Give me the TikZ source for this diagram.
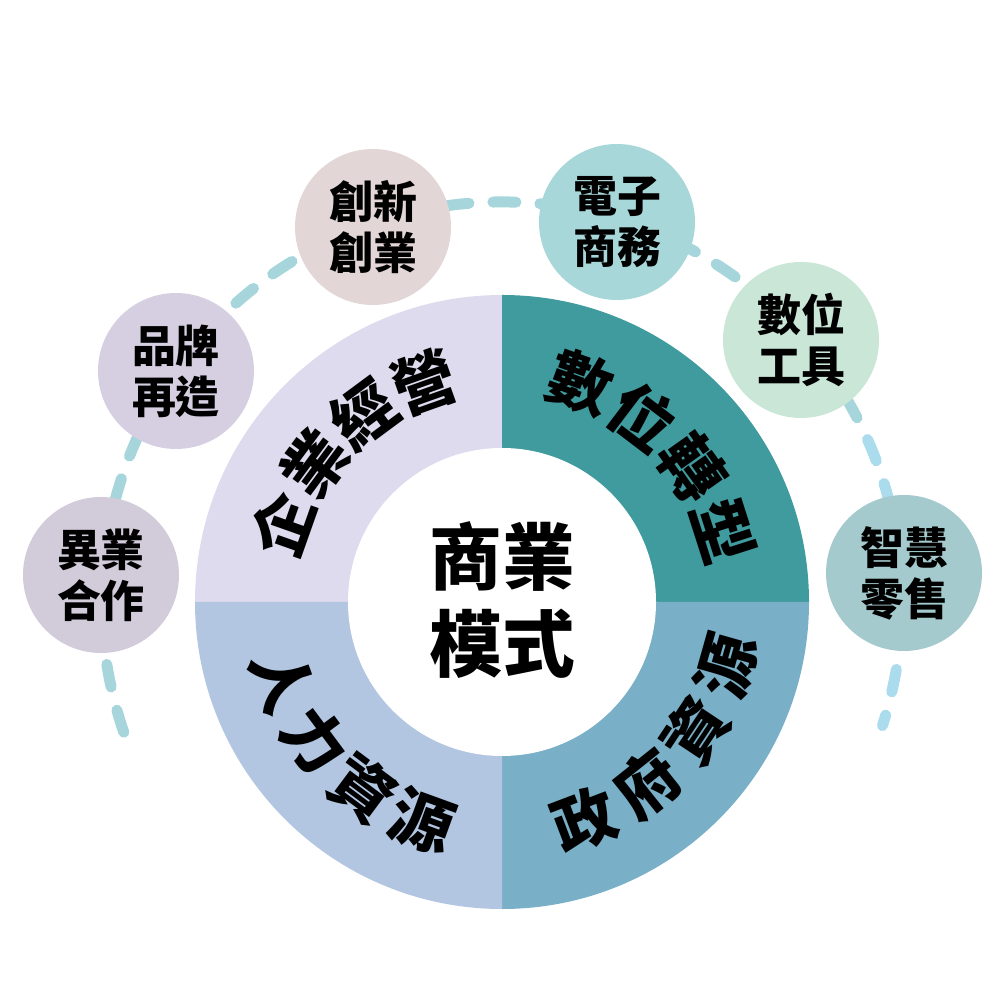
\documentclass[tikz,border=0pt]{standalone}
\usepackage{fontspec}
\setmainfont{Noto Sans CJK TC}
\usetikzlibrary{positioning}
\definecolor{ringlav}{RGB}{222, 219, 238}
\definecolor{ringteal}{RGB}{64, 155, 158}
\definecolor{ringsky}{RGB}{178, 198, 226}
\definecolor{ringblue}{RGB}{122, 175, 200}
\definecolor{dashteal}{RGB}{166, 214, 219}
\definecolor{dashsky}{RGB}{170, 220, 238}
\definecolor{bubgrey}{RGB}{210, 203, 217}
\definecolor{bublilac}{RGB}{214, 207, 226}
\definecolor{bubrose}{RGB}{226, 214, 214}
\definecolor{bubaqua}{RGB}{168, 215, 217}
\definecolor{bubmint}{RGB}{201, 230, 215}
\definecolor{bubsea}{RGB}{164, 202, 205}
\tikzset{
  bubble/.style={circle, minimum size=1.56cm, inner sep=0pt, align=center,
                 font=\bfseries\fontsize{12.5}{14.5}\selectfont},
  ringchar/.style={inner sep=0pt, font=\bfseries\fontsize{18}{18}\selectfont},
  dashline/.style={line width=0.11cm, line cap=round,
                   dash pattern=on 0.23cm off 0.24cm}
}

\begin{document}
\begin{tikzpicture}
            \useasboundingbox (-5.02,-3.98) rectangle (4.98, 6.02);
            % Dashed orbit
            \draw[dashline, dashteal]                    (199:4.00) arc (199: 25:4.00);
            \draw[dashline, dashsky, dash phase=0.3977cm] ( 25:4.00) arc ( 25:-18:4.00);
            % Ring quarters
            \fill[ringlav]  (0,0) -- (180:3.07) arc (180: 90:3.07) -- cycle;
            \fill[ringteal] (0,0) -- ( 90:3.07) arc ( 90:  0:3.07) -- cycle;
            \fill[ringblue] (0,0) -- (  0:3.07) arc (360:270:3.07) -- cycle;
            \fill[ringsky]  (0,0) -- (270:3.07) arc (270:180:3.07) -- cycle;
            \fill[white]    (0,0) circle (1.54);
            % Centre
            \node[align=center, font=\bfseries\fontsize{20.7}{25}\selectfont] (core) at (0,0.02) {商業\\模式};
            % Ring words, top ones run clockwise
            \foreach \ch [count=\i] in {企,業,經,營}
                \node[ringchar, rotate=135+(2.5-\i)*17-90] (qiye\i) at ({135+(2.5-\i)*17}:2.33) {\ch};
            \foreach \ch [count=\i] in {數,位,轉,型}
                \node[ringchar, rotate=44+(2.5-\i)*17.5-90] (shuwei\i) at ({44+(2.5-\i)*17.5}:2.33) {\ch};
            % Ring words, bottom ones run anticlockwise
            \foreach \ch [count=\i] in {人,力,資,源}
                \node[ringchar, rotate=225-(2.5-\i)*16.7+90] (renli\i) at ({225-(2.5-\i)*16.7}:2.33) {\ch};
            \foreach \ch [count=\i] in {政,府,資,源}
                \node[ringchar, rotate=317.5-(2.5-\i)*17.8+90] (zhengfu\i) at ({317.5-(2.5-\i)*17.8}:2.33) {\ch};
            % Bubbles on the orbit
            \node[bubble, fill=bubgrey]  (yiye)    at (-4.01, 0.27) {異業\\合作};
            \node[bubble, fill=bublilac] (pinpai)  at (-3.26, 2.31) {品牌\\再造};
            \node[bubble, fill=bubrose]  (chuang)  at (-1.29, 3.75) {創新\\創業};
            \node[bubble, fill=bubaqua]  (dianzi)  at ( 1.15, 3.80) {電子\\商務};
            \node[bubble, fill=bubmint]  (gongju)  at ( 2.99, 2.62) {數位\\工具};
            \node[bubble, fill=bubsea]   (zhihui)  at ( 4.02, 0.29) {智慧\\零售};
\end{tikzpicture}
\end{document}
